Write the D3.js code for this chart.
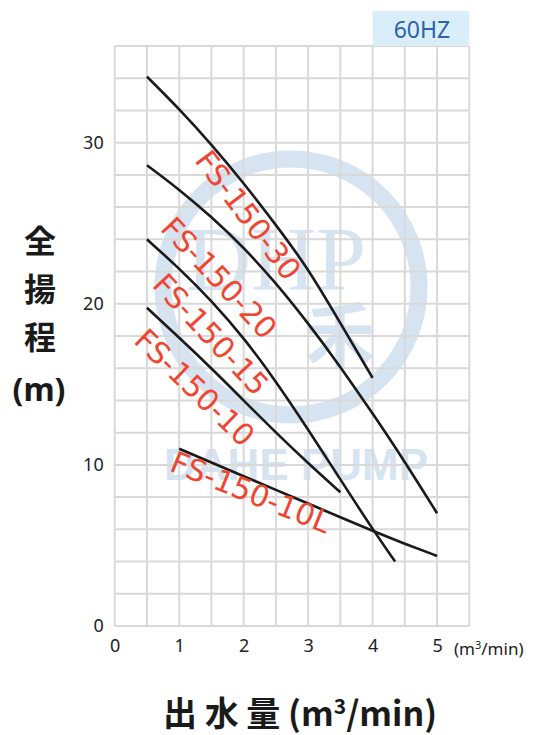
<!DOCTYPE html>
<html><head><meta charset="utf-8">
<script src="https://cdn.jsdelivr.net/npm/d3@7"></script>
<style>html,body{margin:0;padding:0;background:#fff;}</style>
</head><body>
<svg id="c" width="539" height="735"></svg>
<script>
const xTicks = [0,1,2,3,4,5];
const yTicks = [0,10,20,30];
const flow30 = [0.5,1,1.5,2,2.5,3,3.5,4];
const head30 = [34.1,32.1,29.9,27.5,24.9,22.2,18.8,15.4];
const flow20 = [0.5,1,1.5,2,2.5,3,3.5,4,4.5,5];
const head20 = [28.6,27.1,25.4,23.5,21.3,18.8,16.1,13.2,10.2,7.0];
const flow15 = [0.5,1,1.5,2,2.5,3,3.5,4,4.35];
const head15 = [24.0,22.2,20.2,17.9,15.2,12.2,9.1,6.0,4.0];
const flow10 = [0.5,1,1.5,2,2.5,3,3.5];
const head10 = [19.75,17.9,16.0,14.0,12.0,10.1,8.3];
const flow10L = [1,1.5,2,2.5,3,3.5,4,4.5,5];
const head10L = [11.0,10.15,9.3,8.45,7.6,6.75,5.9,5.1,4.35];
const seriesNames = ["FS-150-30","FS-150-20","FS-150-15","FS-150-10","FS-150-10L"];
const labelX = [2.07,1.62,1.49,1.24,2.11];
const labelY = [25.5,21.6,18.1,14.8,8.3];
const labelAngle = [53,47,47,44,22];

const svg = d3.select("#c");
const x = d3.scaleLinear().domain([0,5.5]).range([114.7,469.3]);
const y = d3.scaleLinear().domain([0,36]).range([626,46]);

// watermark
const wm = svg.append("g").attr("fill","#d6e3f1").attr("stroke","none");
wm.append("circle").attr("cx",291).attr("cy",287).attr("r",128)
  .attr("fill","none").attr("stroke","#d6e3f1").attr("stroke-width",17);
wm.append("text").attr("x",276).attr("y",290).attr("text-anchor","middle")
  .attr("font-family","Liberation Serif, DejaVu Serif, serif").attr("font-size",90).text("DHP");
wm.append("text").attr("x",340).attr("y",362).attr("text-anchor","middle")
  .attr("font-family","Noto Sans CJK SC").attr("font-weight","bold").attr("font-size",70).text("禾");
wm.append("text").attr("x",296).attr("y",480).attr("text-anchor","middle")
  .attr("font-family","Liberation Sans, Arial, sans-serif").attr("font-weight","bold").attr("font-size",44).text("DAHE PUMP");

// grid
const grid = svg.append("g").attr("stroke","#d9d9d9").attr("stroke-width",2);
d3.range(0,5.51,0.5).forEach(v=>{
  grid.append("line").attr("x1",x(v)).attr("x2",x(v)).attr("y1",y(0)).attr("y2",y(36));
});
d3.range(0,36.1,2).forEach(v=>{
  grid.append("line").attr("x1",x(0)).attr("x2",x(5.5)).attr("y1",y(v)).attr("y2",y(v));
});

// 60HZ box
svg.append("rect").attr("x",x(4)).attr("y",11).attr("width",x(5.5)-x(4)).attr("height",y(36)-11).attr("fill","#daeef9");
svg.append("text").attr("x",(x(4)+x(5.5))/2+1).attr("y",38).attr("text-anchor","middle")
  .attr("font-family","Noto Sans, sans-serif").attr("font-size",23).attr("fill","#2d63a8").text("60HZ");

// axes tick labels
const xAxis = d3.axisBottom(x).tickValues(xTicks).tickSize(0).tickPadding(13).tickFormat(d3.format("d"));
const gx = svg.append("g").attr("transform",`translate(0,${y(0)})`).call(xAxis);
gx.select(".domain").remove();
gx.selectAll("text").attr("font-family","Noto Sans, sans-serif").attr("font-size",18).attr("fill","#222");
const yAxis = d3.axisLeft(y).tickValues(yTicks).tickSize(0).tickPadding(11).tickFormat(d3.format("d"));
const gy = svg.append("g").attr("transform",`translate(${x(0)},0)`).call(yAxis);
gy.select(".domain").remove();
gy.selectAll("text").attr("font-family","Noto Sans, sans-serif").attr("font-size",18).attr("fill","#222");

svg.append("text").attr("x",454).attr("y",655).attr("font-family","Noto Sans, sans-serif")
  .attr("font-size",17).attr("fill","#222").html('(m<tspan dy="-6" font-size="11">3</tspan><tspan dy="6">/min)</tspan>');

// curves
const data = [
  d3.zip(flow30,head30), d3.zip(flow20,head20), d3.zip(flow15,head15),
  d3.zip(flow10,head10), d3.zip(flow10L,head10L)
];
const line = d3.line().x(d=>x(d[0])).y(d=>y(d[1])).curve(d3.curveBasis);
svg.append("g").selectAll("path").data(data).join("path")
  .attr("d",line).attr("fill","none").attr("stroke","#1a1a1a").attr("stroke-width",2.6);

// labels
svg.append("g").selectAll("text").data(seriesNames).join("text")
  .attr("transform",(d,i)=>`translate(${x(labelX[i])},${y(labelY[i])}) rotate(${labelAngle[i]})`)
  .attr("text-anchor","middle").attr("dominant-baseline","central")
  .attr("font-family","DejaVu Sans, sans-serif").attr("font-size",30).attr("fill","#f04631")
  .text(d=>d);

// titles
const yt = ["全","揚","程"];
svg.append("g").selectAll("text").data(yt).join("text")
  .attr("x",40).attr("y",(d,i)=>253+i*48).attr("text-anchor","middle")
  .attr("font-family","Noto Sans CJK JP").attr("font-weight","bold").attr("font-size",32).attr("fill","#1a1a1a").text(d=>d);
svg.append("text").attr("x",39).attr("y",401).attr("text-anchor","middle")
  .attr("font-family","Noto Sans, sans-serif").attr("font-weight","bold").attr("font-size",32).attr("fill","#1a1a1a").text("(m)");
svg.append("text").attr("x",300).attr("y",726).attr("text-anchor","middle")
  .attr("font-family","Noto Sans CJK JP").attr("font-weight","bold").attr("font-size",34).attr("fill","#1a1a1a")
  .html('出 水 量 (m<tspan dy="-12" font-size="21">3</tspan><tspan dy="12">/min)</tspan>');
</script>
</body></html>
